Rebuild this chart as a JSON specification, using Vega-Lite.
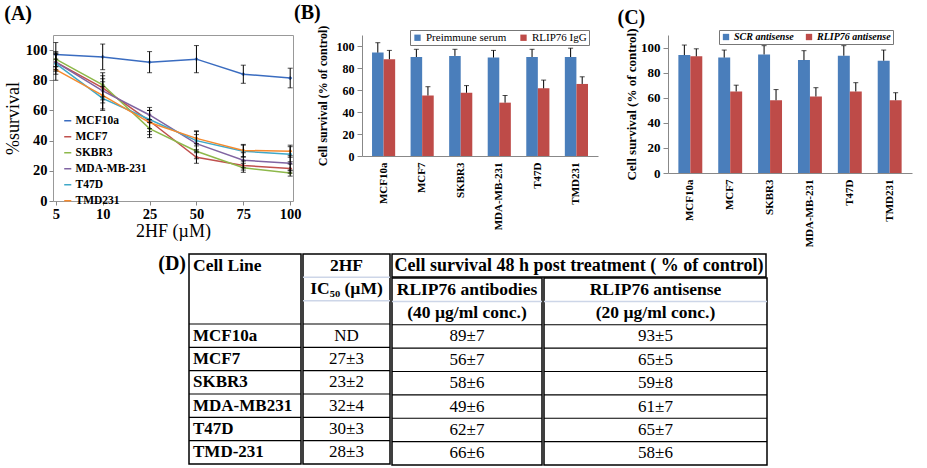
{
  "$schema": "https://vega.github.io/schema/vega-lite/v6.json",
  "background": "white",
  "padding": {"left": 3, "top": 3, "right": 5, "bottom": 3},
  "config": {
    "font": "Liberation Serif",
    "view": {"stroke": null},
    "axis": {"labelFont": "Liberation Serif", "titleFont": "Liberation Serif", "labelColor": "black", "titleColor": "black", "domainColor": "#888", "tickColor": "#888", "grid": false, "labelOverlap": false},
    "legend": {"labelFont": "Liberation Serif", "labelColor": "black"},
    "title": {"font": "Liberation Serif", "fontSize": 20, "fontWeight": "bold", "anchor": "start", "frame": "bounds", "color": "black"},
    "text": {"font": "Liberation Serif", "color": "black"}
  },
  "datasets": {
    "A": [
      {"conc": "5", "line": "MCF10a", "v": 97, "err": 8},
      {"conc": "10", "line": "MCF10a", "v": 95.5, "err": 8.5},
      {"conc": "25", "line": "MCF10a", "v": 92, "err": 7},
      {"conc": "50", "line": "MCF10a", "v": 94, "err": 9},
      {"conc": "75", "line": "MCF10a", "v": 84, "err": 6},
      {"conc": "100", "line": "MCF10a", "v": 81.5, "err": 6.5},
      {"conc": "5", "line": "MCF7", "v": 92, "err": 5},
      {"conc": "10", "line": "MCF7", "v": 75, "err": 8},
      {"conc": "25", "line": "MCF7", "v": 53, "err": 7},
      {"conc": "50", "line": "MCF7", "v": 29, "err": 4},
      {"conc": "75", "line": "MCF7", "v": 23.5, "err": 3},
      {"conc": "100", "line": "MCF7", "v": 21.5, "err": 3},
      {"conc": "5", "line": "SKBR3", "v": 94, "err": 5},
      {"conc": "10", "line": "SKBR3", "v": 77, "err": 8},
      {"conc": "25", "line": "SKBR3", "v": 48, "err": 6},
      {"conc": "50", "line": "SKBR3", "v": 33, "err": 5},
      {"conc": "75", "line": "SKBR3", "v": 22, "err": 3},
      {"conc": "100", "line": "SKBR3", "v": 18.5, "err": 2},
      {"conc": "5", "line": "MDA-MB-231", "v": 92, "err": 6},
      {"conc": "10", "line": "MDA-MB-231", "v": 73, "err": 8},
      {"conc": "25", "line": "MDA-MB-231", "v": 57, "err": 5},
      {"conc": "50", "line": "MDA-MB-231", "v": 38, "err": 6},
      {"conc": "75", "line": "MDA-MB-231", "v": 27, "err": 5},
      {"conc": "100", "line": "MDA-MB-231", "v": 25, "err": 5},
      {"conc": "5", "line": "T47D", "v": 91, "err": 7},
      {"conc": "10", "line": "T47D", "v": 68, "err": 8},
      {"conc": "25", "line": "T47D", "v": 54, "err": 6},
      {"conc": "50", "line": "T47D", "v": 40, "err": 6},
      {"conc": "75", "line": "T47D", "v": 33, "err": 4},
      {"conc": "100", "line": "T47D", "v": 31, "err": 5},
      {"conc": "5", "line": "TMD231", "v": 87, "err": 7},
      {"conc": "10", "line": "TMD231", "v": 70, "err": 9},
      {"conc": "25", "line": "TMD231", "v": 52, "err": 8},
      {"conc": "50", "line": "TMD231", "v": 41.5, "err": 5},
      {"conc": "75", "line": "TMD231", "v": 33.5, "err": 4},
      {"conc": "100", "line": "TMD231", "v": 33, "err": 4}
    ],
    "B": [
      {"cell": "MCF10a", "grp": "Preimmune serum", "v": 94, "hi": 103},
      {"cell": "MCF7", "grp": "Preimmune serum", "v": 90, "hi": 97},
      {"cell": "SKBR3", "grp": "Preimmune serum", "v": 91, "hi": 97},
      {"cell": "MDA-MB-231", "grp": "Preimmune serum", "v": 89.5, "hi": 96},
      {"cell": "T47D", "grp": "Preimmune serum", "v": 90, "hi": 97},
      {"cell": "TMD231", "grp": "Preimmune serum", "v": 90, "hi": 98},
      {"cell": "MCF10a", "grp": "RLIP76 IgG", "v": 88, "hi": 96},
      {"cell": "MCF7", "grp": "RLIP76 IgG", "v": 55, "hi": 63},
      {"cell": "SKBR3", "grp": "RLIP76 IgG", "v": 57.5, "hi": 64},
      {"cell": "MDA-MB-231", "grp": "RLIP76 IgG", "v": 48.5, "hi": 55},
      {"cell": "T47D", "grp": "RLIP76 IgG", "v": 61.5, "hi": 69},
      {"cell": "TMD231", "grp": "RLIP76 IgG", "v": 65.5, "hi": 72}
    ],
    "C": [
      {"cell": "MCF10a", "grp": "SCR antisense", "v": 94, "hi": 102},
      {"cell": "MCF7", "grp": "SCR antisense", "v": 92, "hi": 98},
      {"cell": "SKBR3", "grp": "SCR antisense", "v": 94.5, "hi": 101.5},
      {"cell": "MDA-MB-231", "grp": "SCR antisense", "v": 90, "hi": 97.5},
      {"cell": "T47D", "grp": "SCR antisense", "v": 93.5, "hi": 101.5},
      {"cell": "TMD231", "grp": "SCR antisense", "v": 89.5, "hi": 98},
      {"cell": "MCF10a", "grp": "RLIP76 antisense", "v": 93, "hi": 99},
      {"cell": "MCF7", "grp": "RLIP76 antisense", "v": 65, "hi": 70},
      {"cell": "SKBR3", "grp": "RLIP76 antisense", "v": 58, "hi": 66.5},
      {"cell": "MDA-MB-231", "grp": "RLIP76 antisense", "v": 61, "hi": 68},
      {"cell": "T47D", "grp": "RLIP76 antisense", "v": 65, "hi": 72},
      {"cell": "TMD231", "grp": "RLIP76 antisense", "v": 58, "hi": 64}
    ],
    "tbl": [
      {"slot": "MCF10a", "cell": "MCF10a", "ic50": "ND", "ab": "89±7", "as": "93±5"},
      {"slot": "MCF7", "cell": "MCF7", "ic50": "27±3", "ab": "56±7", "as": "65±5"},
      {"slot": "SKBR3", "cell": "SKBR3", "ic50": "23±2", "ab": "58±6", "as": "59±8"},
      {"slot": "MDA-MB231", "cell": "MDA-MB231", "ic50": "32±4", "ab": "49±6", "as": "61±7"},
      {"slot": "T47D", "cell": "T47D", "ic50": "30±3", "ab": "62±7", "as": "65±7"},
      {"slot": "TMD-231", "cell": "TMD-231", "ic50": "28±3", "ab": "66±6", "as": "58±6"}
    ]
  },
  "vconcat": [
    {
      "hconcat": [
        {
          "width": 240, "height": 166,
          "title": {"text": "(A)", "offset": 11},
          "view": {"stroke": "#999"},
          "data": {"name": "A"},
          "encoding": {
            "x": {"field": "conc", "type": "ordinal", "scale": {"type": "point", "domain": ["5", "10", "25", "50", "75", "100"], "padding": 0.06},
              "axis": {"title": "2HF (µM)", "labelAngle": 0, "labelFontSize": 14.5, "labelFontWeight": "bold", "titleFontSize": 18, "titleFontWeight": "normal", "titlePadding": 2, "domain": false, "tickSize": 4, "labelPadding": 2}},
            "y": {"field": "v", "type": "quantitative", "scale": {"domain": [0, 110]},
              "axis": {"values": [0, 20, 40, 60, 80, 100], "title": "%survival", "labelFontSize": 14.5, "labelFontWeight": "bold", "titleFontSize": 18, "titleFontWeight": "normal", "domain": false, "tickSize": 4, "labelPadding": 2, "titlePadding": 3}}
          },
          "layer": [
            {
              "mark": {"type": "line", "strokeWidth": 1.5, "point": {"shape": "diamond", "size": 18, "filled": true}},
              "encoding": {
                "color": {"field": "line", "type": "nominal",
                  "scale": {"domain": ["MCF10a", "MCF7", "SKBR3", "MDA-MB-231", "T47D", "TMD231"], "range": ["#3A6CC0", "#C0504D", "#8DB84A", "#8064A2", "#3FA8C8", "#F58A2E"]},
                  "legend": {"title": null, "orient": "none", "legendX": 9, "legendY": 80, "labelFontSize": 11.5, "labelFontWeight": "bold", "symbolType": "stroke", "symbolStrokeWidth": 1.5, "symbolSize": 50, "rowPadding": 3, "padding": 0, "labelOffset": 2}}
              }
            },
            {
              "mark": {"type": "errorbar", "ticks": {"size": 5}, "color": "black", "thickness": 1},
              "encoding": {"yError": {"field": "err"}}
            }
          ]
        },
        {
          "hconcat": [
            {
              "width": 236, "height": 121,
              "title": {"text": "(B)", "offset": 2, "dx": -22},
              "data": {"name": "B"},
              "encoding": {
                "x": {"field": "cell", "type": "nominal", "scale": {"domain": ["MCF10a", "MCF7", "SKBR3", "MDA-MB-231", "T47D", "TMD231"], "paddingInner": 0.4, "paddingOuter": 0.26},
                  "axis": {"title": null, "labelAngle": -90, "labelFontSize": 11, "labelFontWeight": "bold", "ticks": false, "labelPadding": 6}},
                "xOffset": {"field": "grp", "type": "nominal", "scale": {"domain": ["Preimmune serum", "RLIP76 IgG"]}}
              },
              "layer": [
                {
                  "mark": {"type": "bar"},
                  "encoding": {
                    "y": {"field": "v", "type": "quantitative", "scale": {"domain": [0, 110]},
                      "axis": {"values": [0, 20, 40, 60, 80, 100], "title": "Cell survival (% of control)", "titleFontSize": 12, "titleFontWeight": "bold", "labelFontSize": 12, "labelFontWeight": "bold", "tickSize": 5, "labelPadding": 3, "titlePadding": 7}},
                    "color": {"field": "grp", "type": "nominal", "scale": {"domain": ["Preimmune serum", "RLIP76 IgG"], "range": ["#4A7EBB", "#BE4B48"]},
                      "legend": {"title": null, "orient": "none", "legendX": 48, "legendY": -5, "direction": "horizontal", "labelFontSize": 11, "symbolType": "square", "symbolSize": 40, "strokeColor": "#777", "padding": 2, "columnPadding": 11, "labelOffset": 3}}
                  }
                },
                {"mark": {"type": "rule", "color": "black", "strokeWidth": 1},
                  "encoding": {"y": {"field": "v", "type": "quantitative", "axis": {"values": [0, 20, 40, 60, 80, 100], "title": "Cell survival (% of control)", "titleFontSize": 12, "titleFontWeight": "bold", "labelFontSize": 12, "labelFontWeight": "bold", "tickSize": 5, "labelPadding": 3, "titlePadding": 7}}, "y2": {"field": "hi"}}},
                {"mark": {"type": "tick", "color": "black", "thickness": 1, "size": 5},
                  "encoding": {"y": {"field": "hi", "type": "quantitative", "axis": {"values": [0, 20, 40, 60, 80, 100], "title": "Cell survival (% of control)", "titleFontSize": 12, "titleFontWeight": "bold", "labelFontSize": 12, "labelFontWeight": "bold", "tickSize": 5, "labelPadding": 3, "titlePadding": 7}}}}
              ]
            },
            {
              "width": 244, "height": 138,
              "title": {"text": "(C)", "offset": 0, "dx": -8},
              "data": {"name": "C"},
              "encoding": {
                "x": {"field": "cell", "type": "nominal", "scale": {"domain": ["MCF10a", "MCF7", "SKBR3", "MDA-MB-231", "T47D", "TMD231"], "paddingInner": 0.4, "paddingOuter": 0.26},
                  "axis": {"title": null, "labelAngle": -90, "labelFontSize": 11, "labelFontWeight": "bold", "ticks": false, "labelPadding": 6}},
                "xOffset": {"field": "grp", "type": "nominal", "scale": {"domain": ["SCR antisense", "RLIP76 antisense"]}}
              },
              "layer": [
                {
                  "mark": {"type": "bar"},
                  "encoding": {
                    "y": {"field": "v", "type": "quantitative", "scale": {"domain": [0, 110]},
                      "axis": {"values": [0, 20, 40, 60, 80, 100], "title": "Cell survival (% of control)", "titleFontSize": 13, "titleFontWeight": "bold", "labelFontSize": 13, "labelFontWeight": "bold", "tickSize": 5, "labelPadding": 3, "titlePadding": 2}},
                    "color": {"field": "grp", "type": "nominal", "scale": {"domain": ["SCR antisense", "RLIP76 antisense"], "range": ["#4A7EBB", "#BE4B48"]},
                      "legend": {"title": null, "orient": "none", "legendX": 51, "legendY": -5, "direction": "horizontal", "labelFontSize": 10, "labelFontStyle": "italic", "labelFontWeight": "bold", "symbolType": "square", "symbolSize": 40, "strokeColor": "#777", "padding": 2, "columnPadding": 10, "labelOffset": 3}}
                  }
                },
                {"mark": {"type": "rule", "color": "black", "strokeWidth": 1},
                  "encoding": {"y": {"field": "v", "type": "quantitative", "axis": {"values": [0, 20, 40, 60, 80, 100], "title": "Cell survival (% of control)", "titleFontSize": 13, "titleFontWeight": "bold", "labelFontSize": 13, "labelFontWeight": "bold", "tickSize": 5, "labelPadding": 3, "titlePadding": 2}}, "y2": {"field": "hi"}}},
                {"mark": {"type": "tick", "color": "black", "thickness": 1, "size": 5},
                  "encoding": {"y": {"field": "hi", "type": "quantitative", "axis": {"values": [0, 20, 40, 60, 80, 100], "title": "Cell survival (% of control)", "titleFontSize": 13, "titleFontWeight": "bold", "labelFontSize": 13, "labelFontWeight": "bold", "tickSize": 5, "labelPadding": 3, "titlePadding": 2}}}}
              ]
            }
          ],
          "spacing": 19,
          "resolve": {"scale": {"x": "independent", "y": "independent", "color": "independent", "xOffset": "independent"}}
        }
      ],
      "spacing": -8,
      "resolve": {"scale": {"x": "independent", "y": "independent", "color": "independent", "xOffset": "independent"}}
    },
    {
      "hconcat": [
        {
          "width": 136, "height": 210,
          "data": {"values": [{"t": "(D)"}]},
          "mark": {"type": "text", "align": "right", "baseline": "top", "fontSize": 20, "fontWeight": "bold", "dx": -3},
          "encoding": {
            "text": {"field": "t"},
            "x": {"datum": 1, "type": "quantitative", "scale": {"domain": [0, 1]}, "axis": null},
            "y": {"datum": 1, "type": "quantitative", "scale": {"domain": [0, 1]}, "axis": null}
          }
        },
        {
          "width": 112, "height": 210,
          "view": {"stroke": "black", "strokeWidth": 1.5},
          "layer": [
            {"data": {"name": "tbl"}, "mark": {"type": "rule", "color": "black", "strokeWidth": 1.2},
              "encoding": {"y": {"field": "slot", "type": "nominal", "bandPosition": 0, "scale": {"domain": ["h1", "h2", "h3", "MCF10a", "MCF7", "SKBR3", "MDA-MB231", "T47D", "TMD-231"], "paddingInner": 0, "paddingOuter": 0}, "axis": null}}},
            {"data": {"name": "tbl"}, "mark": {"type": "text", "align": "left", "dx": 4, "fontSize": 17, "fontWeight": "bold"},
              "encoding": {"y": {"field": "slot", "type": "nominal"}, "x": {"datum": 0, "type": "quantitative", "scale": {"domain": [0, 1]}, "axis": null}, "text": {"field": "cell"}}},
            {"data": {"values": [{"slot": "h1", "t": "Cell Line"}]}, "mark": {"type": "text", "align": "left", "dx": 4, "fontSize": 17.5, "fontWeight": "bold"},
              "encoding": {"y": {"field": "slot", "type": "nominal"}, "x": {"datum": 0, "type": "quantitative"}, "text": {"field": "t"}}}
          ]
        },
        {
          "width": 87, "height": 210,
          "view": {"stroke": "black", "strokeWidth": 1.5},
          "layer": [
            {"data": {"name": "tbl"}, "mark": {"type": "rule", "color": "black", "strokeWidth": 1.2},
              "encoding": {"y": {"field": "slot", "type": "nominal", "bandPosition": 0, "scale": {"domain": ["h1", "h2", "h3", "MCF10a", "MCF7", "SKBR3", "MDA-MB231", "T47D", "TMD-231"], "paddingInner": 0, "paddingOuter": 0}, "axis": null}}},
            {"data": {"values": [{"slot": "h2"}, {"slot": "h3"}]}, "mark": {"type": "rule", "color": "#cdd6e8", "strokeWidth": 1.5},
              "encoding": {"y": {"field": "slot", "type": "nominal", "bandPosition": 0}}},
            {"data": {"name": "tbl"}, "mark": {"type": "text", "fontSize": 17},
              "encoding": {"y": {"field": "slot", "type": "nominal"}, "text": {"field": "ic50"}}},
            {"data": {"values": [{"slot": "h1", "t": "2HF"}, {"slot": "h2", "t": "IC₅₀ (µM)"}]}, "mark": {"type": "text", "fontSize": 17.5, "fontWeight": "bold"},
              "encoding": {"y": {"field": "slot", "type": "nominal"}, "text": {"field": "t"}}}
          ]
        },
        {
          "vconcat": [
            {
              "width": 374, "height": 23,
              "view": {"stroke": "black", "strokeWidth": 1.5},
              "data": {"values": [{"t": "Cell survival 48 h post treatment ( % of control)"}]},
              "mark": {"type": "text", "fontSize": 18, "fontWeight": "bold"},
              "encoding": {"text": {"field": "t"}}
            },
            {
              "hconcat": [
                {
                  "width": 150, "height": 187,
                  "view": {"stroke": "black", "strokeWidth": 1.5},
                  "layer": [
                    {"data": {"name": "tbl"}, "mark": {"type": "rule", "color": "black", "strokeWidth": 1.2},
                      "encoding": {"y": {"field": "slot", "type": "nominal", "bandPosition": 0, "scale": {"domain": ["h2", "h3", "MCF10a", "MCF7", "SKBR3", "MDA-MB231", "T47D", "TMD-231"], "paddingInner": 0, "paddingOuter": 0}, "axis": null}}},
                    {"data": {"values": [{"slot": "h3"}]}, "mark": {"type": "rule", "color": "#cdd6e8", "strokeWidth": 1.5},
                      "encoding": {"y": {"field": "slot", "type": "nominal", "bandPosition": 0}}},
                    {"data": {"name": "tbl"}, "mark": {"type": "text", "fontSize": 17},
                      "encoding": {"y": {"field": "slot", "type": "nominal"}, "text": {"field": "ab"}}},
                    {"data": {"values": [{"slot": "h2", "t": "RLIP76 antibodies"}, {"slot": "h3", "t": "(40 µg/ml conc.)"}]}, "mark": {"type": "text", "fontSize": 17.5, "fontWeight": "bold"},
                      "encoding": {"y": {"field": "slot", "type": "nominal"}, "text": {"field": "t"}}}
                  ]
                },
                {
                  "width": 223, "height": 187,
                  "view": {"stroke": "black", "strokeWidth": 1.5},
                  "layer": [
                    {"data": {"name": "tbl"}, "mark": {"type": "rule", "color": "black", "strokeWidth": 1.2},
                      "encoding": {"y": {"field": "slot", "type": "nominal", "bandPosition": 0, "scale": {"domain": ["h2", "h3", "MCF10a", "MCF7", "SKBR3", "MDA-MB231", "T47D", "TMD-231"], "paddingInner": 0, "paddingOuter": 0}, "axis": null}}},
                    {"data": {"values": [{"slot": "h3"}]}, "mark": {"type": "rule", "color": "#cdd6e8", "strokeWidth": 1.5},
                      "encoding": {"y": {"field": "slot", "type": "nominal", "bandPosition": 0}}},
                    {"data": {"name": "tbl"}, "mark": {"type": "text", "fontSize": 17},
                      "encoding": {"y": {"field": "slot", "type": "nominal"}, "text": {"field": "as"}}},
                    {"data": {"values": [{"slot": "h2", "t": "RLIP76 antisense"}, {"slot": "h3", "t": "(20 µg/ml conc.)"}]}, "mark": {"type": "text", "fontSize": 17.5, "fontWeight": "bold"},
                      "encoding": {"y": {"field": "slot", "type": "nominal"}, "text": {"field": "t"}}}
                  ]
                }
              ],
              "spacing": -2,
              "resolve": {"scale": {"y": "independent"}}
            }
          ],
          "spacing": -2,
          "resolve": {"scale": {"y": "independent"}}
        }
      ],
      "spacing": -2,
      "resolve": {"scale": {"x": "independent", "y": "independent"}}
    }
  ],
  "spacing": 6
}
